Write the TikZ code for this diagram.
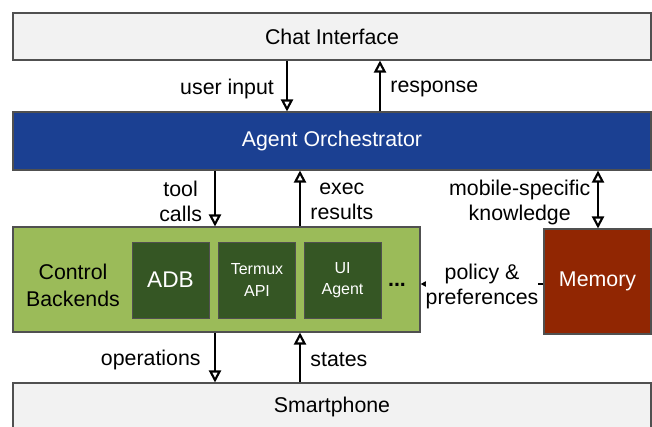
\documentclass[tikz,border=0pt]{standalone}
\usepackage{fontspec}
\setmainfont{Liberation Sans}
\usepackage{xcolor}
\usetikzlibrary{positioning,arrows.meta}

\definecolor{panelgray}{RGB}{242,242,242}
\definecolor{orchblue}{RGB}{27,64,146}
\definecolor{backgreen}{RGB}{155,187,89}
\definecolor{toolgreen}{RGB}{53,86,36}
\definecolor{memred}{RGB}{145,38,2}
\definecolor{edgegray}{RGB}{80,80,80}

\begin{document}
\begin{tikzpicture}[
  x=0.75pt, y=-0.75pt,
  panel/.style={rectangle, draw=edgegray, line width=0.8pt, fill=panelgray,
                minimum width=478.5pt, minimum height=35.25pt, inner sep=0pt,
                font=\fontsize{16}{18}\selectfont},
  tool/.style={rectangle, draw=edgegray, line width=0.6pt, fill=toolgreen, text=white,
               minimum width=57.75pt, minimum height=57pt, inner sep=0pt, align=center,
               font=\fontsize{12}{16}\selectfont},
  opentri/.tip={Triangle[open, length=9pt, width=9pt]},
  arrow/.style={-opentri, line width=1.6pt},
  label/.style={font=\fontsize{16}{18.5}\selectfont, align=center, inner sep=1pt, yshift=-2pt}
]
\useasboundingbox (0,0) rectangle (652,426);
\clip (0,0) rectangle (652,426);

% Chat interface
\node[panel] (chat) at (332,36.5) {Chat Interface};

% Orchestrator
\node[panel, fill=orchblue, text=white, minimum height=43.5pt] (agent) at (332,141) {Agent Orchestrator};

% Smartphone
\node[panel, minimum height=36pt] (phone) at (332,407) {Smartphone};

% Control backends
\node[rectangle, draw=edgegray, line width=0.8pt, fill=backgreen,
      minimum width=305.25pt, minimum height=78.75pt, inner sep=0pt] (ctrl) at (216.5,279.5) {};
\node[label, font=\fontsize{16}{20}\selectfont] (ctrltxt) at (73,283) {Control\\Backends};
\node[tool, font=\fontsize{17}{18}\selectfont] (adb) at (170.5,280) {ADB};
\node[tool] (termux) at (257,280) {Termux\\API};
\node[tool] (ui) at (342.5,280) {UI\\Agent};
\node[font=\fontsize{16}{18}\selectfont\bfseries, inner sep=0pt] (dots) at (397,285) {...};

% Memory
\node[rectangle, draw=edgegray, line width=0.8pt, fill=memred, text=white,
      minimum width=80.25pt, minimum height=78.75pt, inner sep=0pt,
      font=\fontsize{16}{18}\selectfont] (mem) at (597.5,281.5) {Memory};

% Chat <-> orchestrator
\draw[arrow] (chat.south -| 287,0) -- (agent.north -| 287,0)
  node[label, midway, left=8pt] (uin) {user input};
\draw[arrow] (agent.north -| 380,0) -- (chat.south -| 380,0)
  node[label, midway, right=6pt] (resp) {response};

% Orchestrator <-> backends
\draw[arrow] (agent.south -| 215,0) -- (ctrl.north -| 215,0)
  node[label, midway, left=8pt] (calls) {tool\\calls};
\draw[arrow] (ctrl.north -| 300,0) -- (agent.south -| 300,0)
  node[label, midway, right=6pt] (res) {exec\\results};

% Orchestrator <-> memory
\draw[arrow, opentri-opentri] (agent.south -| 598,0) -- (mem.north -| 598,0)
  node[label, midway, left=4pt] (know) {mobile-specific\\knowledge};

% Memory -> backends
\draw[arrow] (mem.west |- 0,284) -- (ctrl.east |- 0,284)
  node[label, midway, fill=white, inner sep=0pt, yshift=0pt] (pol) {policy \&\\preferences};

% Backends <-> phone
\draw[arrow] (ctrl.south -| 215,0) -- (phone.north -| 215,0)
  node[label, midway, left=9pt] (ops) {operations};
\draw[arrow] (phone.north -| 300,0) -- (ctrl.south -| 300,0)
  node[label, midway, right=6pt] (st) {states};

\end{tikzpicture}
\end{document}
